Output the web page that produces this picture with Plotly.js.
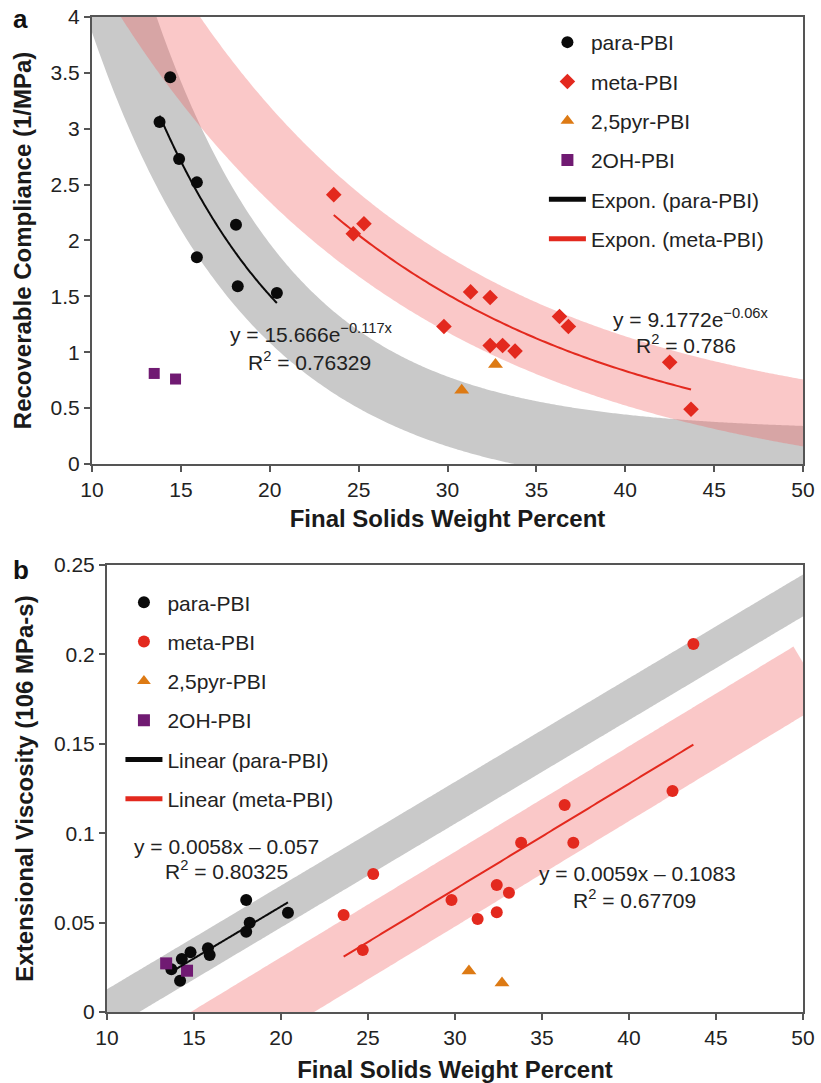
<!DOCTYPE html>
<html>
<head>
<meta charset="utf-8">
<script src="https://cdn.plot.ly/plotly-3.0.1.min.js"></script>
<style>
  html, body { margin: 0; padding: 0; background: #fff; }
  #chart { width: 821px; height: 1083px; }
</style>
</head>
<body>
<div id="chart"></div>
<script>
// ---------- data ----------
// Panel a: recoverable compliance (1/MPa) vs final solids weight percent
const paraX_a = [13.8, 14.4, 14.9, 15.9, 15.9, 18.1, 18.2, 20.4];
const paraY_a = [3.06, 3.46, 2.73, 2.52, 1.85, 2.14, 1.59, 1.53];
const metaX   = [23.6, 24.7, 25.3, 29.8, 31.3, 32.4, 32.4, 33.1, 33.8, 36.3, 36.8, 42.5, 43.7];
const metaY_a = [2.41, 2.06, 2.15, 1.23, 1.54, 1.49, 1.06, 1.06, 1.01, 1.32, 1.23, 0.91, 0.49];
const pyrX    = [30.8, 32.7];
const pyrY_a  = [0.66, 0.89];
const ohX_a   = [13.5, 14.7];
const ohY_a   = [0.81, 0.76];

// Panel b: extensional viscosity (10^6 MPa-s) vs final solids weight percent
const paraX_b = [18.0, 20.4, 18.2, 18.0, 15.8, 15.9, 14.8, 14.3, 13.7, 14.2];
const paraY_b = [0.0626, 0.0555, 0.0499, 0.0449, 0.0356, 0.0319, 0.0334, 0.0296, 0.0239, 0.0175];
const metaY_b = [0.0543, 0.0347, 0.0772, 0.0626, 0.0520, 0.0710, 0.0558, 0.0667, 0.0947, 0.1158, 0.0947, 0.1236, 0.2058];
const pyrY_b  = [0.0229, 0.0162];
const ohX_b   = [13.4, 14.6];
const ohY_b   = [0.0272, 0.0231];

// Fitted trendlines: exponential y = A*exp(k*x), linear y = m*x + c
const expPara = [15.666, -0.117];
const expMeta = [9.1772, -0.06];
const linPara = [0.0058, -0.057];
const linMeta = [0.0059, -0.1083];

// Trendline labels
const eqParaA = ['y = 15.666e<sup>\u22120.117x</sup>', 'R<sup>2</sup> = 0.76329'];
const eqMetaA = ['y = 9.1772e<sup>\u22120.06x</sup>', 'R<sup>2</sup> = 0.786'];
const eqParaB = ['y = 0.0058x \u2013 0.057', 'R<sup>2</sup> = 0.80325'];
const eqMetaB = ['y = 0.0059x \u2013 0.1083', 'R<sup>2</sup> = 0.67709'];

const xTicks = [10, 15, 20, 25, 30, 35, 40, 45, 50];

// ---------- helpers ----------
const expFn = c => x => c[0] * Math.exp(c[1] * x);
const linFn = c => x => c[0] * x + c[1];
function sample(fn, x0, x1, n) {
  const xs = [], ys = [];
  for (let i = 0; i <= n; i++) {
    const x = x0 + (x1 - x0) * i / n;
    xs.push(x); ys.push(fn(x));
  }
  return { x: xs, y: ys };
}
const minOf = a => Math.min.apply(null, a);
const maxOf = a => Math.max.apply(null, a);

// ---------- styles ----------
const FONT = 'Liberation Sans, Arial, Helvetica, sans-serif';
const C_PARA = '#0a0a0a';
const C_META = '#e3291e';
const C_PYR  = '#dd7a14';
const C_OH   = '#701a72';
const C_GRAYBAND = '#c9c9c9';
const C_PINKBAND = 'rgba(242,102,102,0.36)';

// wide translucent highlight following a fitted curve
function band(fn, x0, x1, width, color, xa, ya) {
  const s = sample(fn, x0, x1, 400);
  return { x: s.x, y: s.y, xaxis: xa, yaxis: ya, mode: 'lines', type: 'scatter',
           line: { color: color, width: width, simplify: false },
           hoverinfo: 'skip', showlegend: false };
}
function pts(x, y, name, sym, size, color, xa, ya, leg) {
  return { x: x, y: y, name: name, xaxis: xa, yaxis: ya, mode: 'markers', type: 'scatter',
           marker: { symbol: sym, size: size, color: color }, legend: leg, legendgroup: leg + name };
}
function trend(fn, xs, name, color, xa, ya, leg) {
  const s = sample(fn, minOf(xs), maxOf(xs), 120);
  return { x: s.x, y: s.y, name: name, xaxis: xa, yaxis: ya, mode: 'lines', type: 'scatter',
           line: { color: color, width: 2, simplify: false }, legend: leg, legendgroup: leg + name };
}

const traces = [
  // panel a
  band(expFn(expPara), 8.5, 51, 66, C_GRAYBAND, 'x', 'y'),
  band(expFn(expMeta), 9, 51, 66, C_PINKBAND, 'x', 'y'),
  pts(paraX_a, paraY_a, 'para-PBI', 'circle', 12, C_PARA, 'x', 'y', 'legend'),
  pts(metaX, metaY_a, 'meta-PBI', 'diamond', 12, C_META, 'x', 'y', 'legend'),
  pts(pyrX, pyrY_a, '2,5pyr-PBI', 'triangle-up', 13, C_PYR, 'x', 'y', 'legend'),
  pts(ohX_a, ohY_a, '2OH-PBI', 'square', 11, C_OH, 'x', 'y', 'legend'),
  trend(expFn(expPara), paraX_a, 'Expon. (para-PBI)', C_PARA, 'x', 'y', 'legend'),
  trend(expFn(expMeta), metaX, 'Expon. (meta-PBI)', C_META, 'x', 'y', 'legend'),
  // panel b
  band(linFn(linPara), 8, 51, 36, C_GRAYBAND, 'x2', 'y2'),
  band(linFn(linMeta), 12, 50.4, 64, C_PINKBAND, 'x2', 'y2'),
  pts(paraX_b, paraY_b, 'para-PBI', 'circle', 12, C_PARA, 'x2', 'y2', 'legend2'),
  pts(metaX, metaY_b, 'meta-PBI', 'circle', 12, C_META, 'x2', 'y2', 'legend2'),
  pts(pyrX, pyrY_b, '2,5pyr-PBI', 'triangle-up', 13, C_PYR, 'x2', 'y2', 'legend2'),
  pts(ohX_b, ohY_b, '2OH-PBI', 'square', 12, C_OH, 'x2', 'y2', 'legend2'),
  trend(linFn(linPara), paraX_b, 'Linear (para-PBI)', C_PARA, 'x2', 'y2', 'legend2'),
  trend(linFn(linMeta), metaX, 'Linear (meta-PBI)', C_META, 'x2', 'y2', 'legend2')
];

const axisBase = {
  showline: true, linewidth: 2, linecolor: '#555', mirror: true,
  ticks: 'outside', ticklen: 6, tickwidth: 2, tickcolor: '#555',
  showgrid: false, zeroline: false,
  tickfont: { family: FONT, size: 21, color: '#222' }
};
const titleFont = { family: FONT, size: 24, color: '#1a1a1a', weight: 'bold' };

const legendBase = {
  bgcolor: 'rgba(0,0,0,0)', borderwidth: 0, itemsizing: 'constant', itemwidth: 37,
  traceorder: 'grouped', tracegroupgap: 9,
  font: { family: FONT, size: 21, color: '#222' },
  xanchor: 'left', yanchor: 'top'
};

function eqAnn(lines, x1, y1, x2, y2, xr, yr) {
  const f = { family: FONT, size: 21, color: '#222' };
  return [
    { text: lines[0], x: x1, y: y1, xref: xr, yref: yr, showarrow: false, font: f, xanchor: 'center', yanchor: 'middle' },
    { text: lines[1], x: x2, y: y2, xref: xr, yref: yr, showarrow: false, font: f, xanchor: 'center', yanchor: 'middle' }
  ];
}

const layout = {
  width: 821, height: 1083,
  margin: { l: 92, r: 18, t: 17, b: 71 },
  paper_bgcolor: '#fff', plot_bgcolor: '#fff',
  showlegend: true,
  xaxis: Object.assign({}, axisBase, {
    domain: [0, 1], anchor: 'y', range: [10, 50], tickvals: xTicks,
    title: { text: 'Final Solids Weight Percent', font: titleFont, standoff: 10 }
  }),
  yaxis: Object.assign({}, axisBase, {
    domain: [0.5508, 1], anchor: 'x', range: [0, 4], dtick: 0.5,
    title: { text: 'Recoverable Compliance (1/MPa)', font: titleFont, standoff: 12 }
  }),
  xaxis2: Object.assign({}, axisBase, {
    domain: [0.0211, 1], anchor: 'y2', range: [10, 50], tickvals: xTicks,
    title: { text: 'Final Solids Weight Percent', font: titleFont, standoff: 14 }
  }),
  yaxis2: Object.assign({}, axisBase, {
    domain: [0, 0.4492], anchor: 'x2', range: [0, 0.25], dtick: 0.05,
    title: { text: 'Extensional Viscosity (106 MPa-s)', font: titleFont, standoff: 14 }
  }),
  legend: Object.assign({}, legendBase, { x: 0.6356, y: 0.995 }),
  legend2: Object.assign({}, legendBase, { x: 0.04, y: 0.432 }),
  annotations: [
    { text: '<b>a</b>', x: -0.0999, y: 0.998, xref: 'paper', yref: 'paper', showarrow: false,
      font: { family: FONT, size: 26, color: '#111' }, xanchor: 'center', yanchor: 'middle' },
    { text: '<b>b</b>', x: -0.0999, y: 0.444, xref: 'paper', yref: 'paper', showarrow: false,
      font: { family: FONT, size: 26, color: '#111' }, xanchor: 'center', yanchor: 'middle' }
  ].concat(
    eqAnn(eqParaA, 22.36, 1.172, 22.25, 0.921, 'x', 'y'),
    eqAnn(eqMetaA, 43.71, 1.306, 43.43, 1.073, 'x', 'y'),
    eqAnn(eqParaB, 16.84, 0.0923, 16.84, 0.0794, 'x2', 'y2'),
    eqAnn(eqMetaB, 40.46, 0.0777, 40.29, 0.0632, 'x2', 'y2')
  )
};

Plotly.newPlot('chart', traces, layout, { displayModeBar: false, staticPlot: true });
</script>
</body>
</html>
